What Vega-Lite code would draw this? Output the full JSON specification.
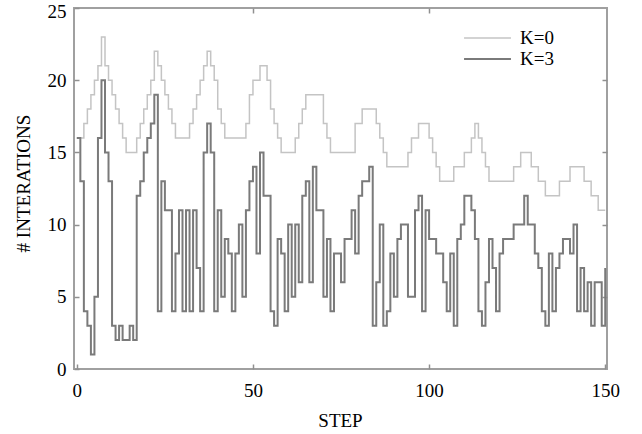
{
  "$schema": "https://vega.github.io/schema/vega-lite/v6.json",
  "autosize": {"type": "none"},
  "padding": {"left": 74, "top": 8, "right": 35, "bottom": 65},
  "width": 533,
  "height": 361,
  "background": "white",
  "config": {
    "view": {"stroke": "#a0a0a0", "strokeWidth": 2},
    "font": "Liberation Serif",
    "axis": {"labelFont": "Liberation Serif", "titleFont": "Liberation Serif", "labelFontSize": 19, "titleFontSize": 19, "labelColor": "black", "titleColor": "black", "titleFontWeight": "normal", "grid": false, "domain": false, "tickColor": "#909090", "tickSize": -5, "tickWidth": 1.5},
    "legend": {"labelFont": "Liberation Serif", "labelFontSize": 19, "labelColor": "black"}
  },
  "data": {"values": [
{"step":0,"K=0":16,"K=3":16},{"step":1,"K=0":16,"K=3":13},{"step":2,"K=0":17,"K=3":4},{"step":3,"K=0":18,"K=3":3},{"step":4,"K=0":19,"K=3":1},{"step":5,"K=0":20,"K=3":5},{"step":6,"K=0":21,"K=3":16},{"step":7,"K=0":23,"K=3":20},{"step":8,"K=0":21,"K=3":15},{"step":9,"K=0":20,"K=3":13},
{"step":10,"K=0":19,"K=3":3},{"step":11,"K=0":18,"K=3":2},{"step":12,"K=0":17,"K=3":3},{"step":13,"K=0":16,"K=3":2},{"step":14,"K=0":15,"K=3":2},{"step":15,"K=0":15,"K=3":3},{"step":16,"K=0":15,"K=3":2},{"step":17,"K=0":16,"K=3":12},{"step":18,"K=0":17,"K=3":13},{"step":19,"K=0":18,"K=3":15},
{"step":20,"K=0":19,"K=3":16},{"step":21,"K=0":20,"K=3":17},{"step":22,"K=0":22,"K=3":19},{"step":23,"K=0":21,"K=3":4},{"step":24,"K=0":20,"K=3":13},{"step":25,"K=0":19,"K=3":11},{"step":26,"K=0":18,"K=3":11},{"step":27,"K=0":17,"K=3":4},{"step":28,"K=0":16,"K=3":8},{"step":29,"K=0":16,"K=3":11},
{"step":30,"K=0":16,"K=3":4},{"step":31,"K=0":16,"K=3":11},{"step":32,"K=0":17,"K=3":4},{"step":33,"K=0":18,"K=3":11},{"step":34,"K=0":19,"K=3":7},{"step":35,"K=0":20,"K=3":4},{"step":36,"K=0":21,"K=3":15},{"step":37,"K=0":22,"K=3":17},{"step":38,"K=0":21,"K=3":15},{"step":39,"K=0":20,"K=3":4},
{"step":40,"K=0":18,"K=3":11},{"step":41,"K=0":17,"K=3":5},{"step":42,"K=0":16,"K=3":9},{"step":43,"K=0":16,"K=3":8},{"step":44,"K=0":16,"K=3":4},{"step":45,"K=0":16,"K=3":8},{"step":46,"K=0":16,"K=3":10},{"step":47,"K=0":16,"K=3":5},{"step":48,"K=0":17,"K=3":11},{"step":49,"K=0":19,"K=3":13},
{"step":50,"K=0":20,"K=3":14},{"step":51,"K=0":20,"K=3":8},{"step":52,"K=0":21,"K=3":15},{"step":53,"K=0":21,"K=3":12},{"step":54,"K=0":20,"K=3":12},{"step":55,"K=0":18,"K=3":4},{"step":56,"K=0":17,"K=3":3},{"step":57,"K=0":16,"K=3":9},{"step":58,"K=0":15,"K=3":8},{"step":59,"K=0":15,"K=3":4},
{"step":60,"K=0":15,"K=3":10},{"step":61,"K=0":15,"K=3":5},{"step":62,"K=0":16,"K=3":10},{"step":63,"K=0":17,"K=3":6},{"step":64,"K=0":18,"K=3":12},{"step":65,"K=0":19,"K=3":13},{"step":66,"K=0":19,"K=3":6},{"step":67,"K=0":19,"K=3":14},{"step":68,"K=0":19,"K=3":11},{"step":69,"K=0":19,"K=3":11},
{"step":70,"K=0":17,"K=3":5},{"step":71,"K=0":16,"K=3":9},{"step":72,"K=0":15,"K=3":4},{"step":73,"K=0":15,"K=3":8},{"step":74,"K=0":15,"K=3":8},{"step":75,"K=0":15,"K=3":6},{"step":76,"K=0":15,"K=3":9},{"step":77,"K=0":15,"K=3":9},{"step":78,"K=0":15,"K=3":11},{"step":79,"K=0":17,"K=3":8},
{"step":80,"K=0":17,"K=3":12},{"step":81,"K=0":18,"K=3":13},{"step":82,"K=0":18,"K=3":13},{"step":83,"K=0":18,"K=3":14},{"step":84,"K=0":18,"K=3":3},{"step":85,"K=0":17,"K=3":6},{"step":86,"K=0":16,"K=3":10},{"step":87,"K=0":15,"K=3":3},{"step":88,"K=0":14,"K=3":4},{"step":89,"K=0":14,"K=3":8},
{"step":90,"K=0":14,"K=3":5},{"step":91,"K=0":14,"K=3":9},{"step":92,"K=0":14,"K=3":10},{"step":93,"K=0":14,"K=3":10},{"step":94,"K=0":15,"K=3":5},{"step":95,"K=0":16,"K=3":5},{"step":96,"K=0":16,"K=3":11},{"step":97,"K=0":17,"K=3":12},{"step":98,"K=0":17,"K=3":4},{"step":99,"K=0":17,"K=3":11},
{"step":100,"K=0":16,"K=3":9},{"step":101,"K=0":15,"K=3":9},{"step":102,"K=0":14,"K=3":8},{"step":103,"K=0":13,"K=3":8},{"step":104,"K=0":13,"K=3":6},{"step":105,"K=0":13,"K=3":4},{"step":106,"K=0":13,"K=3":8},{"step":107,"K=0":14,"K=3":3},{"step":108,"K=0":14,"K=3":9},{"step":109,"K=0":14,"K=3":10},
{"step":110,"K=0":15,"K=3":12},{"step":111,"K=0":15,"K=3":12},{"step":112,"K=0":16,"K=3":11},{"step":113,"K=0":17,"K=3":9},{"step":114,"K=0":16,"K=3":4},{"step":115,"K=0":15,"K=3":3},{"step":116,"K=0":14,"K=3":6},{"step":117,"K=0":13,"K=3":9},{"step":118,"K=0":13,"K=3":7},{"step":119,"K=0":13,"K=3":4},
{"step":120,"K=0":13,"K=3":8},{"step":121,"K=0":13,"K=3":9},{"step":122,"K=0":13,"K=3":9},{"step":123,"K=0":13,"K=3":9},{"step":124,"K=0":14,"K=3":10},{"step":125,"K=0":14,"K=3":10},{"step":126,"K=0":15,"K=3":10},{"step":127,"K=0":15,"K=3":12},{"step":128,"K=0":15,"K=3":10},{"step":129,"K=0":14,"K=3":10},
{"step":130,"K=0":14,"K=3":8},{"step":131,"K=0":13,"K=3":7},{"step":132,"K=0":13,"K=3":4},{"step":133,"K=0":12,"K=3":3},{"step":134,"K=0":12,"K=3":8},{"step":135,"K=0":12,"K=3":4},{"step":136,"K=0":12,"K=3":7},{"step":137,"K=0":13,"K=3":8},{"step":138,"K=0":13,"K=3":9},{"step":139,"K=0":13,"K=3":9},
{"step":140,"K=0":14,"K=3":8},{"step":141,"K=0":14,"K=3":10},{"step":142,"K=0":14,"K=3":4},{"step":143,"K=0":14,"K=3":7},{"step":144,"K=0":13,"K=3":4},{"step":145,"K=0":13,"K=3":6},{"step":146,"K=0":12,"K=3":3},{"step":147,"K=0":12,"K=3":6},{"step":148,"K=0":11,"K=3":6},{"step":149,"K=0":11,"K=3":3},
{"step":150,"K=0":11,"K=3":7}
  ]},
  "transform": [{"fold": ["K=0", "K=3"], "as": ["series", "value"]}],
  "layer": [
    {
      "mark": {"type": "line", "interpolate": "step-after", "clip": true},
      "encoding": {
        "x": {"field": "step", "type": "quantitative", "scale": {"domain": [-0.8, 150.5], "nice": false, "zero": false},
              "axis": {"orient": "bottom", "values": [0, 50, 100, 150], "title": "STEP", "labelPadding": 17, "titleX": 266, "titleY": 51, "titleBaseline": "middle"}},
        "y": {"field": "value", "type": "quantitative", "scale": {"domain": [0, 25], "nice": false},
              "axis": {"orient": "left", "values": [0, 5, 10, 15, 20, 25], "title": "# INTERATIONS", "labelPadding": 13, "labelOffset": {"condition": {"test": "datum.value === 25", "value": 3}, "value": 0}, "titleX": -51, "titleY": 175, "titleBaseline": "middle"}},
        "color": {"field": "series", "type": "nominal", "scale": {"domain": ["K=0", "K=3"], "range": ["#c4c4c4", "#7a7a7a"]},
                  "legend": {"title": null, "orient": "none", "legendX": 389, "legendY": 20, "symbolType": "stroke", "symbolSize": 2200, "symbolStrokeWidth": 2, "clipHeight": 20, "labelOffset": 8, "rowPadding": 1, "padding": 0}},
        "strokeWidth": {"field": "series", "type": "nominal", "scale": {"domain": ["K=0", "K=3"], "range": [1.5, 2]}, "legend": null}
      }
    },
    {
      "mark": {"type": "line", "opacity": 0},
      "encoding": {
        "x": {"field": "step", "type": "quantitative", "axis": {"orient": "top", "values": [50, 100], "labels": false, "title": null}},
        "y": {"field": "value", "type": "quantitative", "axis": {"orient": "right", "values": [5, 10, 15, 20], "labels": false, "title": null}},
        "detail": {"field": "series"}
      }
    }
  ],
  "resolve": {"axis": {"x": "independent", "y": "independent"}}
}
